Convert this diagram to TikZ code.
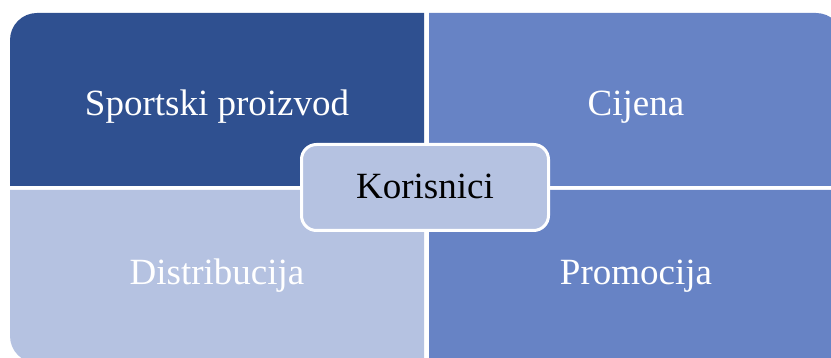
\documentclass[tikz,border=0pt]{standalone}
\usepackage{fontspec}
\setmainfont{Liberation Serif}
\definecolor{qdark}{HTML}{2F5090}
\definecolor{qmid}{HTML}{6783C5}
\definecolor{qlight}{HTML}{B5C2E1}
\begin{document}
\begin{tikzpicture}[x=1pt,y=-1pt,
  qtext/.style={text=white,font=\fontsize{37}{44}\selectfont,anchor=base,inner sep=0pt},
  centerbox/.style={draw=white,line width=3pt,fill=qlight,rounded corners=15pt}]
\useasboundingbox (0,0) rectangle (831,358);
\clip (0,0) rectangle (831,358);
% quadrants (only the outer corner is rounded)
\fill[qdark] (10,186) [rounded corners=27pt] -- (10,13) [sharp corners] -- (424,13) -- (424,186) -- cycle;
\fill[qmid] (429,186) -- (429,13) [rounded corners=27pt] -- (843,13) [sharp corners] -- (843,186) -- cycle;
\fill[qlight] (10,190) -- (424,190) -- (424,363) [rounded corners=27pt] -- (10,363) [sharp corners] -- cycle;
\fill[qmid] (429,190) -- (843,190) [rounded corners=27pt] -- (843,363) [sharp corners] -- (429,363) -- cycle;
% labels
\node[qtext] (prod) at (217,116) {Sportski proizvod};
\node[qtext] (cij) at (636,116) {Cijena};
\node[qtext] (dist) at (217,285) {Distribucija};
\node[qtext] (prom) at (636,285) {Promocija};
% center
\draw[centerbox] (301.5,144.5) rectangle (548.5,230.5);
\node[anchor=base,inner sep=0pt,font=\fontsize{37}{44}\selectfont] (kor) at (425,199) {Korisnici};
\end{tikzpicture}
\end{document}
